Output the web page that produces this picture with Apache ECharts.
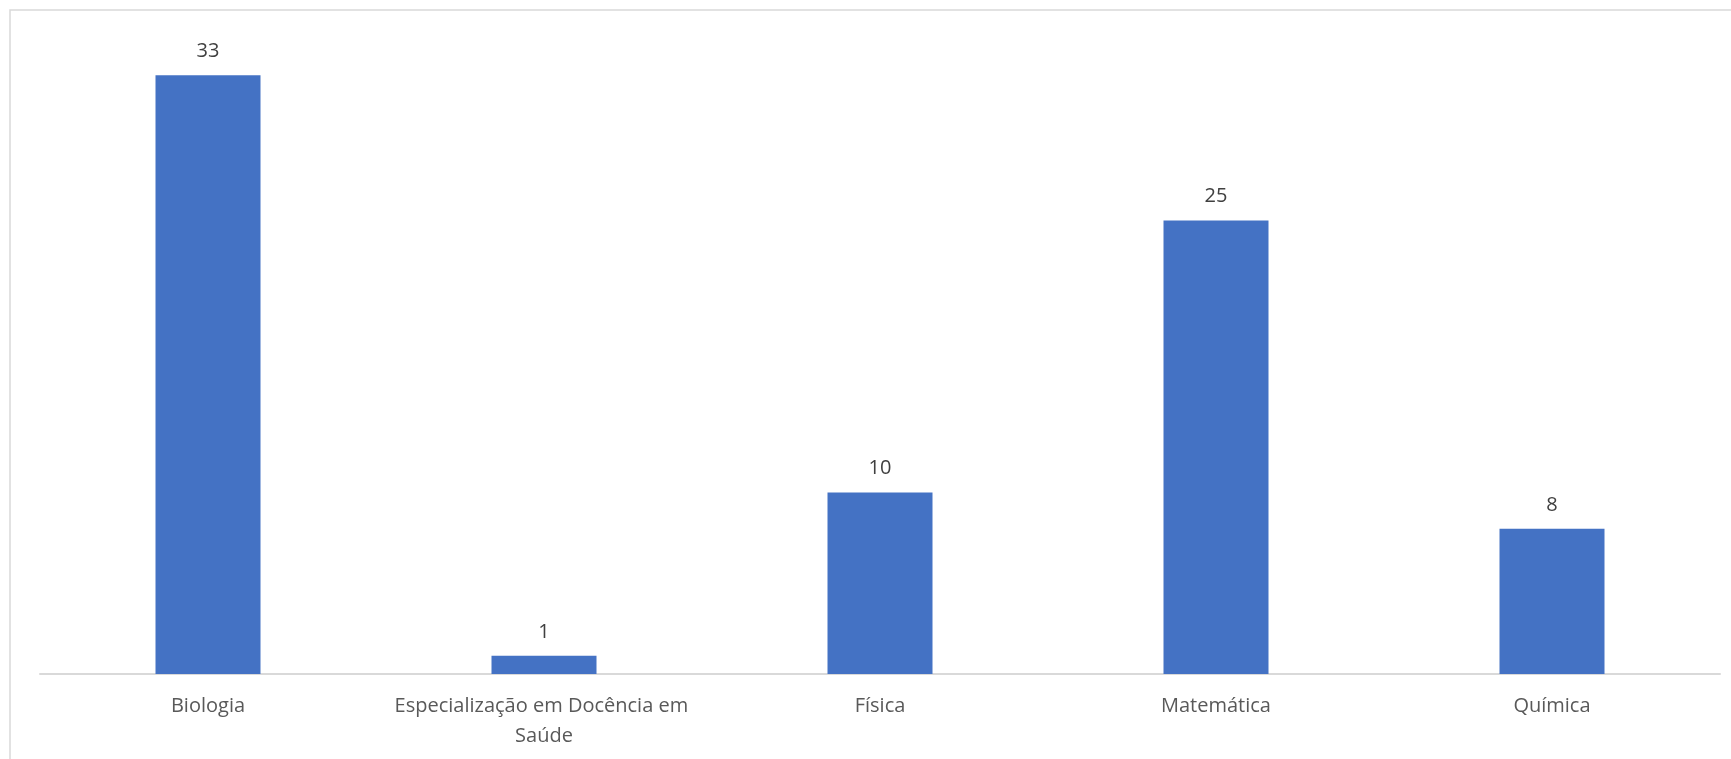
<!DOCTYPE html>
<html>
<head>
<meta charset="utf-8">
<script src="https://cdn.jsdelivr.net/npm/echarts@6/dist/echarts.min.js"></script>
<style>
html,body{margin:0;padding:0;background:#fff;}
#chart{width:1731px;height:759px;}
</style>
</head>
<body>
<div id="chart"></div>
<script>
const categories = ["Biologia", "Especialização em Docência em Saúde", "Física", "Matemática", "Química"];
const values = [33, 1, 10, 25, 8];

const chart = echarts.init(document.getElementById('chart'), null, {renderer: 'canvas'});
chart.setOption({
  animation: false,
  backgroundColor: '#ffffff',
  graphic: [{
    type: 'rect',
    shape: {x: 10, y: 10, width: 1760, height: 800},
    style: {fill: 'none', stroke: '#d9d9d9', lineWidth: 1.5},
    silent: true
  }],
  grid: {left: 40, right: 11, top: 39, bottom: 85},
  xAxis: {
    type: 'category',
    data: categories,
    axisLine: {lineStyle: {color: '#d9d9d9', width: 2}},
    axisTick: {show: false},
    axisLabel: {
      color: '#595959',
      fontFamily: 'Open Sans',
      fontSize: 20,
      lineHeight: 30,
      margin: 17,
      interval: 0,
      width: 345,
      overflow: 'break'
    }
  },
  yAxis: {
    type: 'value',
    min: 0,
    max: 35,
    show: false,
    splitLine: {show: false}
  },
  series: [{
    type: 'bar',
    data: values,
    barWidth: 105,
    itemStyle: {color: '#4472C4'},
    label: {
      show: true,
      position: 'top',
      distance: 14,
      color: '#404040',
      fontFamily: 'Open Sans',
      fontSize: 20
    }
  }]
});
</script>
</body>
</html>
